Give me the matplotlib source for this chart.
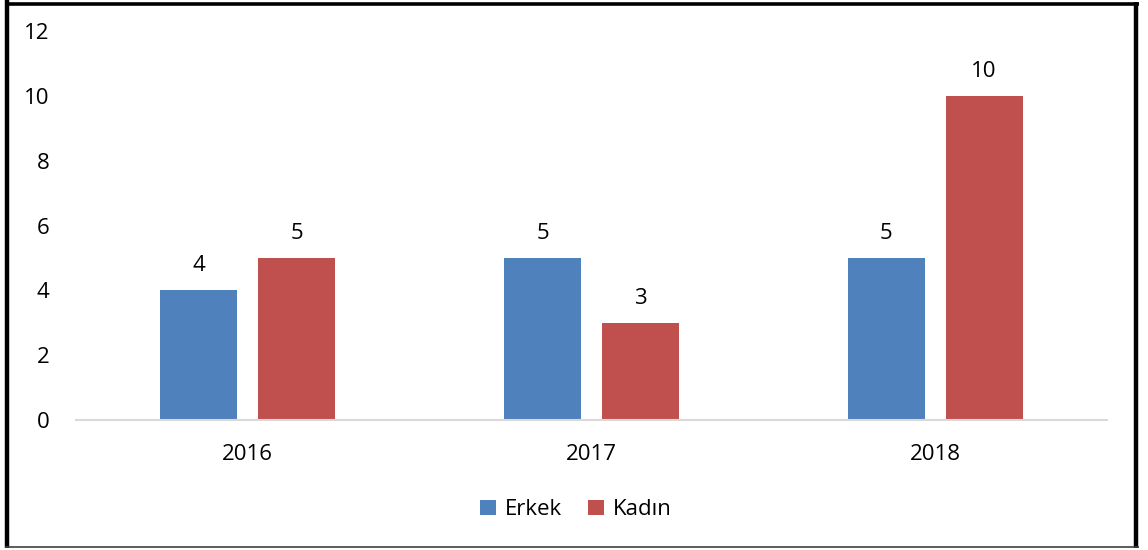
import matplotlib.pyplot as plt
import numpy as np
from matplotlib.lines import Line2D

# Daten
years = ['2016', '2017', '2018']
erkek = [4, 5, 5]
kadin = [5, 3, 10]

blue = '#4f81bd'
red = '#c0504d'

plt.rcParams['font.family'] = ['Open Sans', 'DejaVu Sans']
fs = 16

fig = plt.figure(figsize=(11.48, 5.5), dpi=100)
ax = fig.add_axes([76 / 1148, 1 - 420 / 550, (1107 - 76) / 1148, (420 - 31) / 550])

x = np.arange(len(years))
w = 0.224
gap = 0.061
off = (w + gap) / 2
b1 = ax.bar(x - off, erkek, w, color=blue, label='Erkek')
b2 = ax.bar(x + off, kadin, w, color=red, label='Kadın')

for bars, vals in [(b1, erkek), (b2, kadin)]:
    for b, v in zip(bars, vals):
        ax.annotate(str(v), (b.get_x() + b.get_width() / 2, v),
                    xytext=(0, 10), textcoords='offset points',
                    ha='center', va='bottom', fontsize=fs)

ax.set_xlim(-0.5, 2.5)
ax.set_ylim(0, 12)
ax.set_yticks(range(0, 13, 2))
ax.set_xticks(x)
ax.set_xticklabels(years)
ax.tick_params(axis='both', length=0, labelsize=fs)
ax.tick_params(axis='y', pad=19)
ax.tick_params(axis='x', pad=17)
for s in ['left', 'right', 'top']:
    ax.spines[s].set_visible(False)
ax.spines['bottom'].set_color('#d9d9d9')
ax.spines['bottom'].set_linewidth(1.5)

ax.legend(loc='center', bbox_to_anchor=(0.485, -0.231), ncol=2, frameon=False,
          fontsize=fs, handlelength=0.7, handleheight=0.7, handletextpad=0.4,
          columnspacing=1.2)

# Rahmen um die Grafik
W, H = 1148, 550
def px_line(x0, y0, x1, y1, lw, color):
    fig.add_artist(Line2D([x0 / W, x1 / W], [1 - y0 / H, 1 - y1 / H],
                          transform=fig.transFigure, color=color, linewidth=lw,
                          solid_capstyle='butt'))

px_line(7, 0, 7, 548, 3.2, 'black')
px_line(5, 4, 1139, 4, 2.6, 'black')
px_line(1136, 2, 1136, 548, 3.2, 'black')
px_line(5, 547, 1139, 547, 1.2, '#404040')

fig.savefig('out.png', dpi=100)
